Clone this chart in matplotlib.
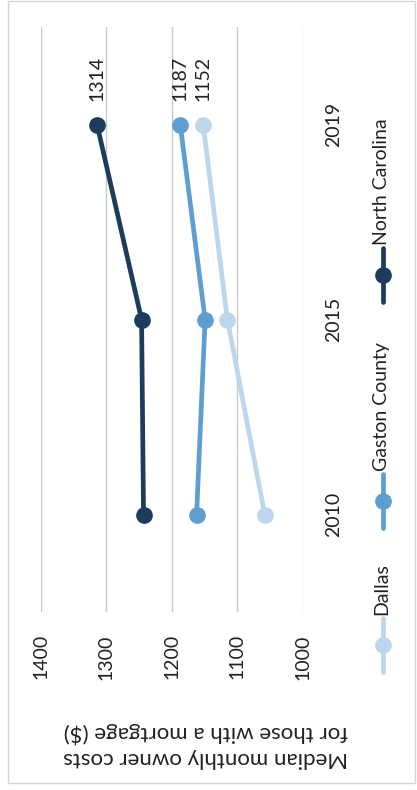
import matplotlib.pyplot as plt
from matplotlib.patches import Rectangle

# Median monthly owner costs for homes with a mortgage
years = ["2010", "2015", "2019"]
series_names = ["Dallas", "Gaston County", "North Carolina"]
dallas = [1058, 1115, 1152]
gaston_county = [1162, 1149, 1187]
north_carolina = [1243, 1246, 1314]
value_ticks = [1000, 1100, 1200, 1300, 1400]

colors = {
    "Dallas": "#bcd6ec",
    "Gaston County": "#5f9ed1",
    "North Carolina": "#1d3b5c",
}

plt.rcParams['font.family'] = ['Lato', 'DejaVu Sans']
TEXT = '#222222'

W, H = 417, 790
fig = plt.figure(figsize=(W / 100, H / 100), dpi=100)
fig.patch.set_facecolor('white')

# pixel-space canvas for the frame, axis title and legend
canvas = fig.add_axes([0, 0, 1, 1])
canvas.set_xlim(0, W)
canvas.set_ylim(H, 0)
canvas.axis('off')
canvas.add_patch(Rectangle((8, 1), 407, 782, fill=False,
                           edgecolor='#d4d4d4', lw=1))

# chart turned on its side: values run right-to-left, years bottom-to-top
ax = fig.add_axes([40.7 / W, (H - 612) / H, 262 / W, 585 / H])
ax.set_facecolor('none')
ypos = list(range(len(years)))
series = [dallas, gaston_county, north_carolina]
for name, vals in zip(series_names, series):
    ax.plot(vals, ypos, color=colors[name], lw=3.4, marker='o', ms=11,
            solid_capstyle='round', zorder=3)
    ax.annotate(str(vals[-1]), (vals[-1], ypos[-1]), xytext=(0, 17),
                textcoords='offset points', rotation=90, ha='center',
                va='bottom', fontsize=14, color=TEXT)

ax.set_xlim(1400, 1000)
ax.set_ylim(-0.5, len(years) - 0.5)
ax.set_xticks(value_ticks)
ax.set_xticklabels([str(v) for v in value_ticks], rotation=90,
                   fontsize=14, color=TEXT)
ax.xaxis.grid(True, color='#c9c9c9', lw=1)
ax.set_axisbelow(True)
ax.yaxis.tick_right()
ax.set_yticks(ypos)
ax.set_yticklabels(years, rotation=90, va='center', fontsize=14, color=TEXT)
ax.tick_params(axis='x', length=0, pad=16)
ax.tick_params(axis='y', length=0, pad=16)
for s in ax.spines.values():
    s.set_visible(False)

canvas.text(206, 745, "Median monthly owner costs\nfor those with a mortgage ($)",
            rotation=180, ha='center', va='center', fontsize=16,
            color=TEXT, linespacing=1.25)

# legend entries: short line with marker, label reading upward
legend_y = {"Dallas": 645, "Gaston County": 501, "North Carolina": 275}
for name in series_names:
    yc = legend_y[name]
    canvas.plot([383, 383], [yc - 27, yc + 27], color=colors[name], lw=3.4,
                marker=None, solid_capstyle='round')
    canvas.plot([383], [yc], color=colors[name], marker='o', ms=11)
    canvas.text(382, yc - 30, name, rotation=90, ha='center', va='bottom',
                fontsize=14, color=TEXT)

fig.savefig('out.png', dpi=100, facecolor='white')
